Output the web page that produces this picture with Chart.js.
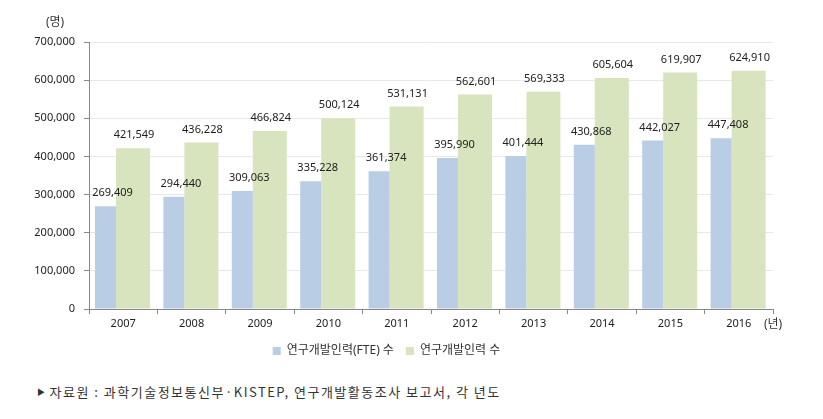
<!DOCTYPE html>
<html>
<head>
<meta charset="utf-8">
<script src="https://cdn.jsdelivr.net/npm/chart.js@4"></script>
<style>
  body { margin: 0; background: #fff; }
  #wrap { position: relative; width: 823px; height: 370px; }
  #src {
    position: absolute; left: 37px; top: 382px;
    font: 13px 'Noto Sans CJK KR', sans-serif; color: #333;
    letter-spacing: 1.5px;
  }
  #src .tri { font-size: 8px; vertical-align: 2px; margin-right: 3px; }
</style>
</head>
<body>
<div id="wrap"><canvas id="chart"></canvas></div>
<div id="src"><span class="tri">▶</span>자료원 : 과학기술정보통신부·KISTEP, 연구개발활동조사 보고서, 각 년도</div>
<script>
// 연도
const years = ["2007", "2008", "2009", "2010", "2011", "2012", "2013", "2014", "2015", "2016"];
// 연구개발인력(FTE) 수
const fteValues = [269409, 294440, 309063, 335228, 361374, 395990, 401444, 430868, 442027, 447408];
// 연구개발인력 수
const totalValues = [421549, 436228, 466824, 500124, 531131, 562601, 569333, 605604, 619907, 624910];
// y축 눈금
const yTicks = [0, 100000, 200000, 300000, 400000, 500000, 600000, 700000];

const FONT = "'Noto Sans', 'Noto Sans CJK KR', sans-serif";
const fmt = (v) => v.toLocaleString("en-US");

// 막대 위 값 표시 + 단위 표시
const labelPlugin = {
    id: "labels",
    afterDatasetsDraw(chart) {
        const ctx = chart.ctx;
        ctx.save();
        ctx.font = "11px " + FONT;
        ctx.fillStyle = "#222";
        ctx.textAlign = "center";
        ctx.textBaseline = "middle";
        chart.data.datasets.forEach((ds, i) => {
            const meta = chart.getDatasetMeta(i);
            meta.data.forEach((bar, j) => {
                const dx = i === 0 ? 7 : 1;
                ctx.fillText(fmt(ds.data[j]), bar.x + dx, bar.y - 13);
            });
        });
        const area = chart.chartArea;
        ctx.font = "12px " + FONT;
        ctx.fillStyle = "#333";
        ctx.fillText("(명)", area.left - 34, area.top - 19);
        ctx.fillText("(년)", area.right, area.bottom + 16);
        ctx.restore();
    },
};

const ctx = document.getElementById("chart").getContext("2d");
new Chart(ctx, {
    type: "bar",
    data: {
        labels: years,
        datasets: [
            {
                label: "연구개발인력(FTE) 수",
                data: fteValues,
                backgroundColor: "#b9cde5",
                categoryPercentage: 1.035,
                barPercentage: 0.593,
            },
            {
                label: "연구개발인력 수",
                data: totalValues,
                backgroundColor: "#d7e4bd",
                categoryPercentage: 0.573,
                barPercentage: 1.735,
            },
        ],
    },
    options: {
        responsive: true,
        maintainAspectRatio: false,
        animation: false,
        layout: { padding: { top: 42, right: 50, bottom: 3, left: 0 } },
        plugins: {
            legend: {
                position: "bottom",
                labels: {
                    boxWidth: 8,
                    boxHeight: 8,
                    padding: 12,
                    color: "#333",
                    font: { size: 12, family: FONT },
                },
            },
            tooltip: { enabled: false },
        },
        scales: {
            x: {
                grid: {
                    drawOnChartArea: false,
                    tickLength: 5,
                    tickColor: "#888",
                },
                border: { color: "#888" },
                ticks: {
                    color: "#222",
                    padding: 3,
                    font: { size: 11, family: FONT },
                },
                afterFit(scale) { scale.height = 24; },
            },
            y: {
                min: 0,
                max: 700000,
                afterBuildTicks(scale) {
                    scale.ticks = yTicks.map((v) => ({ value: v }));
                },
                grid: {
                    color: "#e8e8e8",
                    tickLength: 5,
                    tickColor: "#888",
                },
                border: { color: "#888" },
                ticks: {
                    color: "#222",
                    padding: 9,
                    font: { size: 11, family: FONT },
                    callback: (v) => fmt(v),
                },
                afterFit(scale) { scale.width = 89; },
            },
        },
    },
    plugins: [labelPlugin],
});
</script>
</body>
</html>
